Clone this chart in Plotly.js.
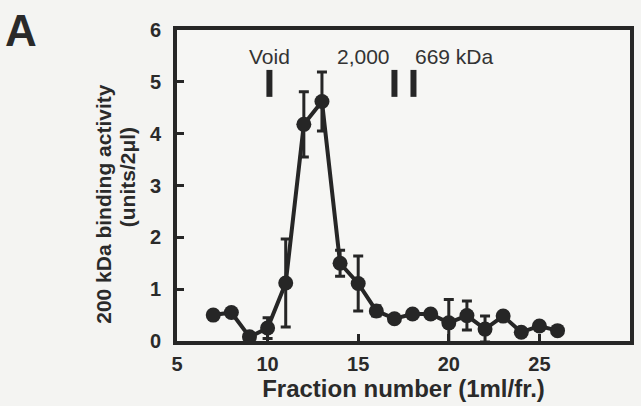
<!DOCTYPE html>
<html>
<head>
<meta charset="utf-8">
<script src="https://cdn.plot.ly/plotly-3.0.1.min.js"></script>
<style>
html,body{margin:0;padding:0;background:#f4f4f2;}
#chart{width:641px;height:406px;}
</style>
</head>
<body>
<div id="chart"></div>
<script>
// Data
const fractions = [7, 8, 9, 10, 11, 12, 13, 14, 15, 16, 17, 18, 19, 20, 21, 22, 23, 24, 25, 26];
const activity  = [0.5, 0.55, 0.08, 0.25, 1.12, 4.18, 4.62, 1.5, 1.11, 0.58, 0.43, 0.52, 0.52, 0.35, 0.49, 0.23, 0.48, 0.17, 0.29, 0.2];
const errors    = [0, 0, 0, 0.2, 0.85, 0.63, 0.57, 0.25, 0.53, 0.1, 0, 0, 0, 0.45, 0.28, 0.25, 0, 0, 0, 0];
const markerLabels = ["Void", "2,000", "669 kDa"];
const markerLabelX = [10.08, 15.27, 20.3];
const markerBarX = [10.1, 17.0, 18.05];
const xTicks = [5, 10, 15, 20, 25, 30];
const yTicks = [0, 1, 2, 3, 4, 5, 6];
const yTitleLines = ["200 kDa binding activity", "(units/2μl)"];

const ink = '#262626';
const font = 'Liberation Sans, Arial, Helvetica, sans-serif';

const trace = {
  x: fractions, y: activity, type: 'scatter', mode: 'lines+markers',
  line: {color: ink, width: 4},
  marker: {color: ink, size: 15},
  error_y: {type: 'data', array: errors, visible: true, color: ink, thickness: 3, width: 5},
  cliponaxis: false,
  showlegend: false
};

const shapes = markerBarX.map(x => ({
  type: 'line', xref: 'x', yref: 'y', x0: x, x1: x, y0: 4.71, y1: 5.23,
  line: {color: ink, width: 6}
}));

const annotations = markerLabels.map((t, i) => ({
  text: t, x: markerLabelX[i], y: 5.48, xref: 'x', yref: 'y',
  showarrow: false, font: {family: font, size: 21, color: '#333'}
}));
annotations.push({
  text: '<b>A</b>', xref: 'paper', yref: 'paper', x: -0.385, y: 1.085,
  xanchor: 'left', yanchor: 'top', showarrow: false,
  font: {family: font, size: 44, color: '#2a2a2a'}
});
annotations.push({
  text: '<b>' + yTitleLines[0] + '</b>', xref: 'paper', yref: 'paper',
  x: -0.162, y: 0.44, xanchor: 'center', yanchor: 'middle', textangle: -90, showarrow: false,
  font: {family: font, size: 21, color: '#2a2a2a'}
});
annotations.push({
  text: '<b>' + yTitleLines[1] + '</b>', xref: 'paper', yref: 'paper',
  x: -0.11, y: 0.527, xanchor: 'center', yanchor: 'middle', textangle: -90, showarrow: false,
  font: {family: font, size: 21, color: '#2a2a2a'}
});

const layout = {
  width: 641, height: 406,
  paper_bgcolor: '#f4f4f2', plot_bgcolor: '#f6f6f4',
  margin: {l: 177, r: 11, t: 30, b: 65},
  font: {family: font, color: '#2a2a2a'},
  xaxis: {
    range: [5, 30], tickvals: xTicks, ticks: 'inside', ticklen: 7, tickwidth: 3, tickcolor: ink,
    showline: true, linecolor: ink, linewidth: 4, mirror: true, showgrid: false, zeroline: false,
    ticklabelstandoff: 2,
    tickfont: {family: font, size: 20, color: '#2a2a2a', weight: 'bold'},
    title: {text: '<b>Fraction number (1ml/fr.)</b>', font: {family: font, size: 24, color: '#2a2a2a'}, standoff: 2}
  },
  yaxis: {
    range: [0, 6], tickvals: yTicks, ticks: 'inside', ticklen: 7, tickwidth: 3, tickcolor: ink,
    showline: true, linecolor: ink, linewidth: 4, mirror: true, showgrid: false, zeroline: false,
    ticklabelstandoff: 8,
    tickfont: {family: font, size: 20, color: '#2a2a2a', weight: 'bold'}
  },
  shapes: shapes,
  annotations: annotations
};

Plotly.newPlot('chart', [trace], layout, {displayModeBar: false, staticPlot: true});
</script>
</body>
</html>
